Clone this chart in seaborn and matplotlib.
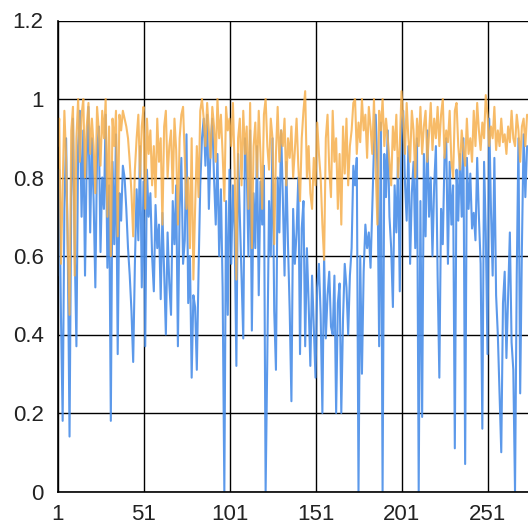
import matplotlib
matplotlib.use("Agg")
import matplotlib.pyplot as plt
import numpy as np
import pandas as pd
import seaborn as sns

sns.set_style("white")
plt.rcParams["font.family"] = ["Liberation Sans", "DejaVu Sans"]

blue = [
    0.55, 0.82, 0.45, 0.18, 0.72, 0.90, 0.60, 0.14, 0.75, 0.95,
    0.62, 0.37, 0.88, 0.97, 0.70, 0.92, 0.55, 0.85, 0.98, 0.66,
    0.90, 0.74, 0.52, 0.86, 0.93, 0.61, 0.80, 0.72, 0.96, 0.57,
    0.78, 0.18, 0.84, 0.63, 0.91, 0.35, 0.76, 0.69, 0.83, 0.80,
    0.72, 0.62, 0.55, 0.46, 0.33, 0.58, 0.77, 0.64, 0.88, 0.52,
    0.79, 0.37, 0.82, 0.70, 0.76, 0.60, 0.51, 0.73, 0.62, 0.68,
    0.49, 0.71, 0.56, 0.40, 0.66, 0.53, 0.45, 0.74, 0.63, 0.78,
    0.37, 0.72, 0.85, 0.58, 0.64, 0.91, 0.48, 0.60, 0.29, 0.50,
    0.47, 0.31, 0.56, 0.78, 0.90, 0.95, 0.83, 0.96, 0.72, 0.88,
    0.95, 0.80, 0.68, 0.86, 0.60, 0.77, 0.52, 0.00, 0.74, 0.45,
    0.82, 0.58, 0.78, 0.66, 0.32, 0.86, 0.70, 0.55, 0.39, 0.90,
    0.83, 0.60, 0.92, 0.41, 0.76, 0.62, 0.88, 0.50, 0.79, 0.68,
    0.83, 0.00, 0.35, 0.74, 0.60, 0.90, 0.46, 0.31, 0.80, 0.66,
    0.92, 0.75, 0.55, 0.84, 0.63, 0.46, 0.23, 0.72, 0.58, 0.66,
    0.80, 0.35, 0.67, 0.74, 0.37, 0.62, 0.48, 0.32, 0.55, 0.42,
    0.29, 0.52, 0.58, 0.45, 0.20, 0.60, 0.39, 0.50, 0.56, 0.42,
    0.40, 0.55, 0.20, 0.48, 0.53, 0.20, 0.44, 0.58, 0.52, 0.40,
    0.55, 0.62, 0.83, 0.78, 0.85, 0.00, 0.60, 0.30, 0.56, 0.68,
    0.62, 0.66, 0.57, 0.72, 0.88, 0.96, 0.82, 0.37, 0.94, 0.00,
    0.86, 0.75, 0.92, 0.70, 0.62, 0.47, 0.78, 0.66, 0.85, 0.51,
    0.93, 0.97, 0.79, 0.69, 0.88, 0.58, 0.76, 0.84, 0.62, 0.90,
    0.00, 0.74, 0.19, 0.86, 0.65, 0.92, 0.70, 0.80, 0.60, 0.78,
    0.88, 0.55, 0.29, 0.72, 0.63, 0.85, 0.90, 0.58, 0.84, 0.68,
    0.78, 0.11, 0.82, 0.69, 0.86, 0.70, 0.90, 0.07, 0.85, 0.72,
    0.81, 0.67, 0.71, 0.64, 0.85, 0.70, 0.58, 0.16, 0.84, 0.66,
    0.35, 0.95, 0.72, 0.55, 0.85, 0.50, 0.40, 0.25, 0.10, 0.48,
    0.56, 0.34, 0.50, 0.66, 0.38, 0.31, 0.00, 0.55, 0.90, 0.25,
    0.62, 0.91, 0.75, 0.88,
]

orange = [
    0.88, 0.95, 0.58, 0.78, 0.97, 0.85, 0.62, 0.45, 0.92, 0.98,
    0.55, 0.90, 1.00, 0.84, 0.96, 1.00, 0.80, 0.93, 0.99, 0.86,
    0.95, 0.88, 0.76, 0.98, 0.92, 0.83, 0.97, 0.90, 1.00, 0.70,
    0.93, 0.60, 0.95, 0.88, 0.97, 0.65, 0.96, 0.92, 0.97, 0.95,
    0.93, 0.90, 0.84, 0.76, 0.65, 0.82, 0.90, 0.96, 0.80, 0.93,
    0.98, 0.72, 0.95, 0.86, 0.92, 0.78, 0.88, 0.75, 0.95, 0.84,
    0.90, 0.68, 0.93, 0.97, 0.80, 0.88, 0.92, 0.76, 0.95, 0.87,
    0.68, 0.90, 0.96, 0.98, 0.85, 0.72, 0.80, 0.62, 0.90, 0.54,
    0.72, 0.88, 0.75, 0.97, 1.00, 0.95, 0.88, 0.99, 0.92, 0.85,
    0.98, 0.93, 0.84, 1.00, 0.90, 0.96, 0.86, 0.74, 0.98, 0.92,
    0.95, 0.88, 0.99, 0.82, 0.54, 0.90, 0.95, 0.78, 0.97, 0.86,
    0.93, 0.72, 0.99, 0.62, 0.88, 0.94, 0.80, 0.97, 0.86, 0.72,
    0.96, 1.00, 0.88, 0.82, 0.95, 0.90, 0.63, 0.86, 0.98, 0.84,
    0.92, 0.88, 0.95, 0.78, 0.90, 0.85, 0.93, 0.80, 0.87, 0.95,
    0.83, 0.74, 0.90, 0.97, 1.02, 0.80, 0.88, 0.76, 0.72, 0.85,
    0.78, 0.94, 0.86, 0.80, 0.68, 0.59, 0.90, 0.96, 0.82, 0.75,
    0.97, 0.84, 0.90, 0.72, 0.86, 0.68, 0.93, 0.81, 0.95, 0.78,
    0.88, 0.92, 0.99, 1.00, 0.86, 0.94, 0.89, 1.00, 0.92, 0.96,
    0.85, 0.98, 0.93, 0.86, 1.00, 0.82, 0.68, 0.97, 0.92, 1.00,
    0.88, 0.95, 0.90, 0.84, 0.78, 0.93, 0.87, 0.96, 0.80, 0.88,
    1.02, 0.95, 0.86, 0.99, 0.90, 0.84, 0.97, 0.92, 0.80, 0.95,
    0.88, 0.98, 0.86, 0.93, 0.97, 0.84, 0.91, 0.99, 0.87, 0.95,
    0.90, 0.98, 0.88, 0.96, 1.00, 0.85, 0.92, 0.89, 0.97, 0.84,
    0.80, 0.97, 0.99, 0.88, 0.82, 0.92, 0.87, 0.83, 0.95, 0.86,
    0.90, 0.84, 0.97, 0.88, 0.99, 0.92, 0.87, 0.94, 0.90, 1.01,
    0.96, 0.88, 0.93, 0.90, 0.98, 0.87, 0.92, 0.88, 0.95, 0.89,
    0.91, 0.86, 0.93, 0.89, 0.97, 0.90, 0.88, 0.96, 0.92, 0.84,
    0.93, 0.95, 0.88, 0.96,
]

x_ticks = [1, 51, 101, 151, 201, 251]
y_ticks = [0, 0.2, 0.4, 0.6, 0.8, 1, 1.2]
y_tick_labels = ["0", "0.2", "0.4", "0.6", "0.8", "1", "1.2"]

df = pd.DataFrame({"x": np.arange(1, len(blue) + 1), "blue": blue, "orange": orange})

W, H = 528, 520
fig = plt.figure(figsize=(W / 100, H / 100), dpi=100)
left_px, right_px, top_px, bot_px = 57.5, 528, 20.5, 491.5
ax = fig.add_axes([left_px / W, 1 - bot_px / H, (right_px - left_px) / W, (bot_px - top_px) / H])

sns.lineplot(data=df, x="x", y="blue", color="#4a8ee8", lw=1.5, alpha=0.9, ax=ax)
sns.lineplot(data=df, x="x", y="orange", color="#f6b04e", lw=1.5, alpha=0.85, ax=ax)

px_per_unit = 1.72
ax.set_xlim(1, 1 + (right_px - left_px) / px_per_unit)
ax.set_ylim(0, 1.2)
ax.set_xticks(x_ticks)
ax.set_xticklabels([str(t) for t in x_ticks])
ax.set_yticks(y_ticks)
ax.set_yticklabels(y_tick_labels)
ax.set_xlabel("")
ax.set_ylabel("")
ax.grid(True, color="black", lw=1.0)
ax.set_axisbelow(True)
for s in ["top", "right"]:
    ax.spines[s].set_visible(False)
for s in ["left", "bottom"]:
    ax.spines[s].set_color("black")
    ax.spines[s].set_linewidth(1.2)
ax.tick_params(axis="x", length=3, width=1, color="black", pad=6, labelsize=16, labelcolor="#222222")
ax.tick_params(axis="y", length=7, width=1, color="black", pad=3, labelsize=16, labelcolor="#222222")

fig.savefig("out.png", dpi=100)
